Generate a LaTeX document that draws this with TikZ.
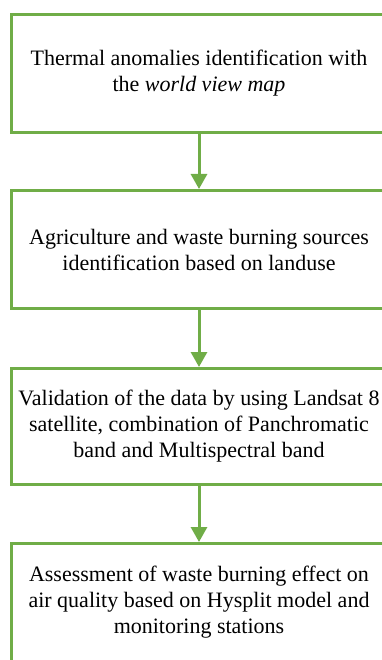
\documentclass[tikz,border=0pt]{standalone}
\usepackage{fontspec}
\setmainfont{Liberation Serif}
\usetikzlibrary{arrows.meta}
\definecolor{leaf}{HTML}{70AD47}
\begin{document}
\begin{tikzpicture}[x=1pt,y=-1pt,
  stepbox/.style={draw=leaf,line width=3pt,rectangle,minimum width=375pt,
    minimum height=118pt,align=center,inner sep=0pt,
    font=\fontsize{22}{26}\selectfont},
  flow/.style={draw=leaf,line width=3pt,-{Triangle[width=16pt,length=15pt]}}]
\useasboundingbox (0,0) rectangle (382,660);
\clip (0,0) rectangle (382,660);
\node[stepbox] (b1) at (199,73.5) {Thermal anomalies identification with\\the \textit{world view map}};
\node[stepbox] (b2) at (199,249.5) {Agriculture and waste burning sources\\identification based on landuse};
\node[stepbox,minimum height=116pt] (b3) at (199,426.5) {Validation of the data by using Landsat 8\\satellite, combination of Panchromatic\\band and Multispectral band};
\node[stepbox] (b4) at (199,602.5) {Assessment of waste burning effect on\\air quality based on Hysplit model and\\monitoring stations};
\draw[flow] (b1.south) -- (b2.north);
\draw[flow] (b2.south) -- (b3.north);
\draw[flow] (b3.south) -- (b4.north);
\end{tikzpicture}
\end{document}
